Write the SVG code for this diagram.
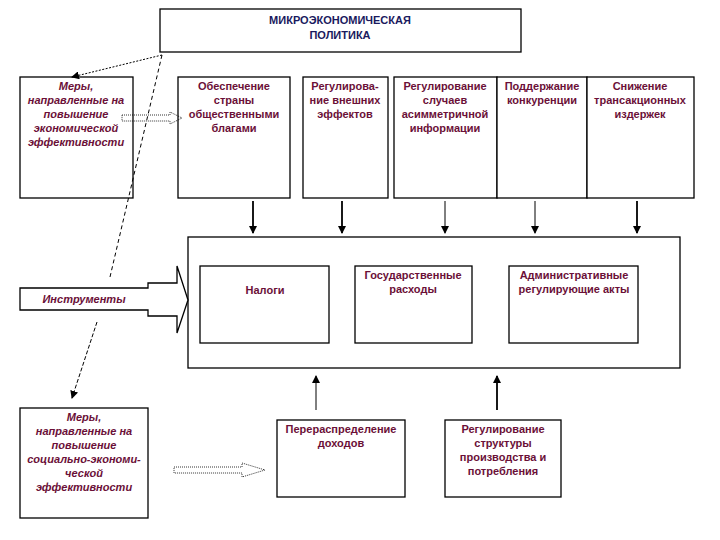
<svg xmlns="http://www.w3.org/2000/svg" width="720" height="540" viewBox="0 0 720 540">
<style>
rect{fill:#fff;stroke:#000;stroke-width:1.3}
text{font-family:"Liberation Sans",Arial,sans-serif;font-size:11px;font-weight:bold;fill:#6b1038;text-anchor:middle}
.i{font-style:italic}
.t{fill:#1a1a5e}
.c{stroke:#000;fill:none}
</style>
<defs>
<marker id="a" markerWidth="8" markerHeight="8" refX="7" refY="4" orient="auto" markerUnits="userSpaceOnUse"><path d="M0,0L8,4L0,8z" fill="#000"/></marker>
</defs>
<rect width="720" height="540" style="stroke:none"/>
<g id="title"><rect x="160" y="9" width="361" height="43"/><text class="t" x="340" y="24">МИКРОЭКОНОМИЧЕСКАЯ</text><text class="t" x="340" y="39">ПОЛИТИКА</text></g>
<g id="m1"><rect x="20" y="77" width="113" height="121"/><text class="i" x="76" y="90">Меры,</text><text class="i" x="76" y="104">направленные на</text><text class="i" x="76" y="118">повышение</text><text class="i" x="76" y="132">экономической</text><text class="i" x="76" y="146">эффективности</text></g>
<g id="b1"><rect x="178" y="77" width="112" height="121"/><text x="234" y="90">Обеспечение</text><text x="234" y="104">страны</text><text x="234" y="118">общественными</text><text x="234" y="132">благами</text></g>
<g id="b2"><rect x="303" y="77" width="85" height="121"/><text x="345" y="90">Регулирова-</text><text x="345" y="104">ние внешних</text><text x="345" y="118">эффектов</text></g>
<g id="b3"><rect x="394" y="77" width="103" height="121"/><text x="445" y="90">Регулирование</text><text x="445" y="104">случаев</text><text x="445" y="118">асимметричной</text><text x="445" y="132">информации</text></g>
<g id="b4"><rect x="497" y="77" width="90" height="121"/><text x="542" y="90">Поддержание</text><text x="542" y="104">конкуренции</text></g>
<g id="b5"><rect x="587" y="77" width="107" height="121"/><text x="640" y="90">Снижение</text><text x="640" y="104">трансакционных</text><text x="640" y="118">издержек</text></g>
<g id="big"><rect x="188" y="237" width="492" height="131"/></g>
<g id="n1"><rect x="200" y="266" width="129" height="77"/><text x="265" y="294">Налоги</text></g>
<g id="n2"><rect x="355" y="266" width="117" height="77"/><text x="413" y="279">Государственные</text><text x="413" y="293">расходы</text></g>
<g id="n3"><rect x="509" y="266" width="129" height="77"/><text x="574" y="279">Административные</text><text x="574" y="293">регулирующие акты</text></g>
<g id="instr"><path d="M20,288H148V283H177V266L188,300L177,333V316H148V310H20Z" fill="#fff" stroke="#000" stroke-width="1.3"/><text class="i" x="84" y="303">Инструменты</text></g>
<g id="m2"><rect x="20" y="408" width="128" height="110"/><text class="i" x="84" y="421">Меры,</text><text class="i" x="84" y="435">направленные на</text><text class="i" x="84" y="449">повышение</text><text class="i" x="84" y="463">социально-экономи-</text><text class="i" x="84" y="477">ческой</text><text class="i" x="84" y="491">эффективности</text></g>
<g id="r1"><rect x="277" y="420" width="128" height="77"/><text x="341" y="433">Перераспределение</text><text x="341" y="447">доходов</text></g>
<g id="r2"><rect x="445" y="420" width="116" height="77"/><text x="503" y="433">Регулирование</text><text x="503" y="447">структуры</text><text x="503" y="461">производства и</text><text x="503" y="475">потребления</text></g>
<g id="connectors">
<path class="c" d="M162,55L72,77" stroke-dasharray="2,1.5" marker-end="url(#a)"/>
<path class="c" d="M162,55L110,277" stroke-dasharray="4,3"/>
<path class="c" d="M97,322L72,398" stroke-dasharray="4,2" marker-end="url(#a)"/>
<path d="M122,115H170V112L182,118L170,124V121H122Z" fill="none" stroke="#000" stroke-width="0.8" stroke-dasharray="1,1"/>
<path d="M174,467H242V463L265,470L242,477V473H174Z" fill="none" stroke="#000" stroke-width="0.8" stroke-dasharray="1,1"/>
<path class="c" stroke-width="1.8" d="M253,201V233" marker-end="url(#a)"/>
<path class="c" stroke-width="1.8" d="M342,201V233" marker-end="url(#a)"/>
<path class="c" d="M445,201V233" marker-end="url(#a)"/>
<path class="c" d="M535,201V233" marker-end="url(#a)"/>
<path class="c" stroke-width="1.8" d="M637,201V233" marker-end="url(#a)"/>
<path class="c" d="M316,410V376" marker-end="url(#a)"/>
<path class="c" stroke-width="1.8" d="M497,410V376" marker-end="url(#a)"/>
</g>
</svg>
